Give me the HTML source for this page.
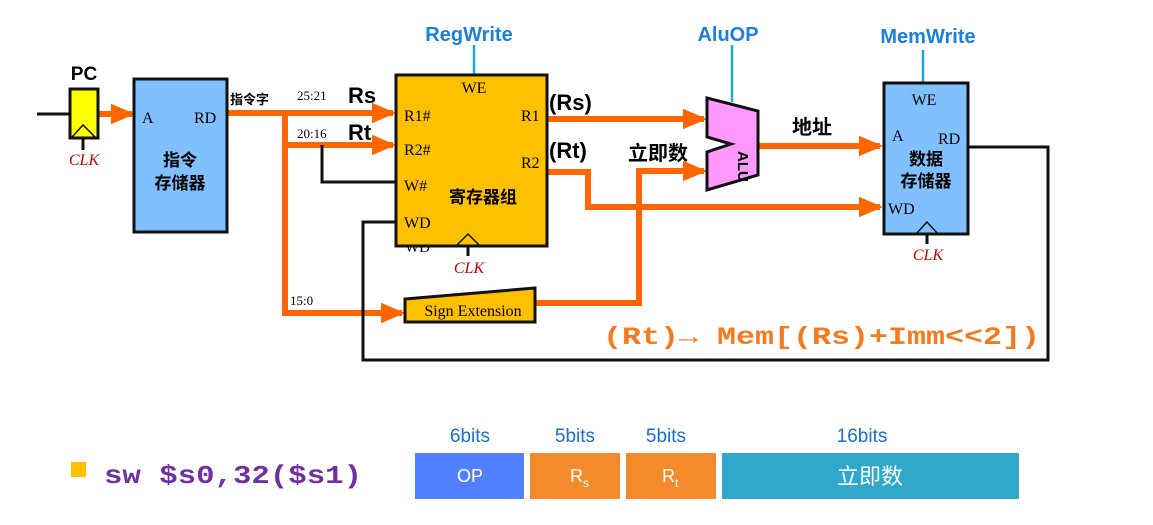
<!DOCTYPE html>
<html><head><meta charset="utf-8"><style>
html,body{margin:0;padding:0;background:#fff;}
svg text{font-family:"Liberation Sans","Noto Sans CJK SC",sans-serif;}
svg text.s{font-family:"Liberation Serif","Noto Serif CJK SC",serif;}
svg text.m{font-family:"Liberation Mono",monospace;}
</style></head><body>
<svg width="1153" height="520" viewBox="0 0 1153 520" xmlns="http://www.w3.org/2000/svg">
<defs>
<marker id="a" markerWidth="4" markerHeight="4" refX="3.5" refY="2" orient="auto" markerUnits="strokeWidth"><path d="M0,0.3 L4,2 L0,3.7 Z" fill="#ff6600"/></marker>
</defs>
<g fill="none" stroke="#ff6600" stroke-width="6">
<line x1="98" y1="114" x2="132" y2="114" marker-end="url(#a)"/>
<line x1="227" y1="113" x2="393" y2="113" marker-end="url(#a)"/>
<polyline points="285,113 285,313 402,313" marker-end="url(#a)"/>
<line x1="285" y1="145" x2="393" y2="145" marker-end="url(#a)"/>
<line x1="547" y1="119" x2="704" y2="119" marker-end="url(#a)"/>
<polyline points="547,172 588,172 588,207 880,207" marker-end="url(#a)"/>
<polyline points="535,303 639,303 639,171 704,171" marker-end="url(#a)"/>
<line x1="758" y1="146" x2="880" y2="146" marker-end="url(#a)"/>
</g>
<g fill="none" stroke="#111" stroke-width="3">
<line x1="37" y1="114" x2="70" y2="114"/>
<polyline points="322,145 322,182 396,182"/>
<polyline points="396,222 363,222 363,360 1048,360 1048,147 968,147"/>
<line x1="83" y1="138" x2="83" y2="150"/>
<line x1="468" y1="246" x2="468" y2="256"/>
<line x1="927" y1="234" x2="927" y2="244"/>
</g>
<g stroke="#1aa5e6" stroke-width="2.5">
<line x1="474" y1="45" x2="474" y2="75"/>
<line x1="732" y1="45" x2="732" y2="102"/>
<line x1="923" y1="50" x2="923" y2="83"/>
</g>
<rect x="70" y="89" width="28" height="49" fill="#ffff00" stroke="#111" stroke-width="3"/>
<polyline points="72,137 83,125 95,137" fill="none" stroke="#111" stroke-width="1.5"/>
<text x="84" y="80" font-size="19" font-weight="bold" text-anchor="middle">PC</text>
<text x="84" y="165" class="s" font-size="16" font-style="italic" fill="#c00000" text-anchor="middle">CLK</text>
<rect x="134" y="79" width="93" height="153" fill="#80c0ff" stroke="#111" stroke-width="3"/>
<text x="142" y="123" class="s" font-size="16">A</text>
<text x="194" y="123" class="s" font-size="16">RD</text>
<text x="180" y="166" font-size="17" font-weight="bold" text-anchor="middle">指令</text>
<text x="180" y="189" font-size="17" font-weight="bold" text-anchor="middle">存储器</text>
<text x="230" y="104" font-size="13" font-weight="bold">指令字</text>
<text x="297" y="100" class="s" font-size="13">25:21</text>
<text x="297" y="138" class="s" font-size="13">20:16</text>
<text x="290" y="305" class="s" font-size="13">15:0</text>
<text x="348" y="103" font-size="22" font-weight="bold">Rs</text>
<text x="348" y="140" font-size="22" font-weight="bold">Rt</text>
<text x="405" y="252" class="s" font-size="15">WD</text>
<rect x="396" y="75" width="151" height="171" fill="#ffc000" stroke="#111" stroke-width="3"/>
<polyline points="457,245 468,234 479,245" fill="none" stroke="#111" stroke-width="1.5"/>
<text x="474" y="93" class="s" font-size="16" text-anchor="middle">WE</text>
<text x="404" y="121" class="s" font-size="16">R1#</text>
<text x="404" y="155" class="s" font-size="16">R2#</text>
<text x="404" y="191" class="s" font-size="16">W#</text>
<text x="404" y="228" class="s" font-size="16">WD</text>
<text x="521" y="121" class="s" font-size="16">R1</text>
<text x="521" y="168" class="s" font-size="16">R2</text>
<text x="483" y="203" font-size="17" font-weight="bold" text-anchor="middle">寄存器组</text>
<text x="469" y="273" class="s" font-size="16" font-style="italic" fill="#c00000" text-anchor="middle">CLK</text>
<text x="469" y="41" font-size="20" font-weight="bold" fill="#1a7fe0" text-anchor="middle">RegWrite</text>
<polygon points="405,299 535,288 535,322 405,322" fill="#ffc000" stroke="#111" stroke-width="3"/>
<text x="473" y="316" class="s" font-size="16" text-anchor="middle">Sign Extension</text>
<text x="549" y="110" font-size="22" font-weight="bold">(Rs)</text>
<text x="549" y="158" font-size="22" font-weight="bold">(Rt)</text>
<text x="628" y="160" font-size="20" font-weight="bold">立即数</text>
<text x="792" y="134" font-size="20" font-weight="bold">地址</text>
<polygon points="707,98 758,111 758,175 707,190 707,152 731,144 707,137" fill="#ff99ff" stroke="#111" stroke-width="3"/>
<text transform="translate(738,151) rotate(90)" font-size="15" font-weight="bold">ALU</text>
<text x="728" y="41" font-size="20" font-weight="bold" fill="#1a7fe0" text-anchor="middle">AluOP</text>
<rect x="884" y="83" width="84" height="151" fill="#80c0ff" stroke="#111" stroke-width="3"/>
<polyline points="916,234 927,222 938,234" fill="none" stroke="#111" stroke-width="1.5"/>
<text x="924" y="105" class="s" font-size="16" text-anchor="middle">WE</text>
<text x="892" y="141" class="s" font-size="16">A</text>
<text x="938" y="144" class="s" font-size="16">RD</text>
<text x="926" y="165" font-size="17" font-weight="bold" text-anchor="middle">数据</text>
<text x="926" y="187" font-size="17" font-weight="bold" text-anchor="middle">存储器</text>
<text x="888" y="214" class="s" font-size="16">WD</text>
<text x="928" y="260" class="s" font-size="16" font-style="italic" fill="#c00000" text-anchor="middle">CLK</text>
<text x="928" y="43" font-size="20" font-weight="bold" fill="#1a7fe0" text-anchor="middle">MemWrite</text>
<text x="603" y="344" class="m" font-size="25" font-weight="bold" fill="#f47a20" textLength="437" lengthAdjust="spacingAndGlyphs">(Rt)→ Mem[(Rs)+Imm&lt;&lt;2])</text>
<rect x="71" y="462" width="15" height="15" fill="#ffc000"/>
<text x="104" y="483" class="m" font-size="26" font-weight="bold" fill="#7030a0" textLength="258" lengthAdjust="spacingAndGlyphs">sw $s0,32($s1)</text>
<text x="470" y="442" font-size="19" fill="#1a6fcc" text-anchor="middle">6bits</text>
<text x="575" y="442" font-size="19" fill="#1a6fcc" text-anchor="middle">5bits</text>
<text x="666" y="442" font-size="19" fill="#1a6fcc" text-anchor="middle">5bits</text>
<text x="862" y="442" font-size="19" fill="#1a6fcc" text-anchor="middle">16bits</text>
<rect x="415" y="453" width="109" height="46" fill="#5080ff"/>
<rect x="530" y="453" width="90" height="46" fill="#f58a2a"/>
<rect x="626" y="453" width="90" height="46" fill="#f58a2a"/>
<rect x="722" y="453" width="297" height="46" fill="#30a8cc"/>
<text x="470" y="482" font-size="18" fill="#fff" text-anchor="middle">OP</text>
<text x="570" y="482" font-size="18" fill="#fff">R<tspan font-size="12" dy="5">s</tspan></text>
<text x="662" y="482" font-size="18" fill="#fff">R<tspan font-size="12" dy="5">t</tspan></text>
<text x="870" y="484" font-size="22" fill="#fff" text-anchor="middle">立即数</text>
</svg>
</body></html>
